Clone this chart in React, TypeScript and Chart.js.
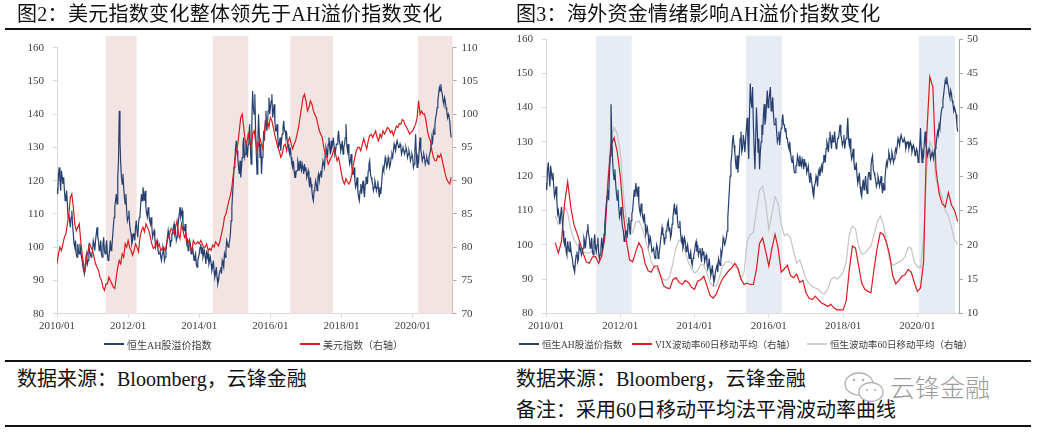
import React, { useEffect, useRef } from "react";
import { Chart, registerables } from "chart.js";

Chart.register(...registerables);

const SERIF = '"Liberation Serif", "Noto Sans CJK SC", serif';
const CJK = '"Liberation Serif", "Noto Sans CJK SC", sans-serif';

// ---- x axis (time in years) ----
const xTicks = [2010, 2012, 2014, 2016, 2018, 2020];
const xTickLabels = ["2010/01", "2012/01", "2014/01", "2016/01", "2018/01", "2020/01"];
const X_MIN = 2010;
const X_MAX = 2021.12;

// ---- 恒生AH股溢价指数: weekly-ish (48 per year) from 2010/01 ----
const ahPremium = [
  118, 116, 122, 124, 120, 117, 123, 121, 119, 121, 117, 114, 115, 117, 113, 109, 110, 108, 106, 109, 111, 107, 104, 101,
  100, 102, 98, 97, 101, 99, 98, 101, 99, 97, 96, 94, 93, 92, 95, 97, 98, 95, 96, 100, 99, 98, 97, 98,
  99, 102, 101, 99, 102, 104, 106, 103, 102, 99, 100, 102, 98, 97, 101, 103, 99, 98, 100, 102, 98, 96, 97, 99,
  102, 99, 100, 103, 106, 109, 112, 114, 116, 113, 121, 126, 141, 132, 125, 121, 119, 122, 118, 115, 113, 116, 111, 108,
  109, 111, 107, 105, 104, 101, 102, 104, 104, 102, 106, 108, 105, 103, 107, 109, 110, 113, 116, 114, 118, 116, 114, 117,
  112, 110, 109, 112, 110, 108, 107, 109, 106, 103, 104, 105, 103, 100, 101, 102, 100, 98, 98, 99, 97, 96, 98, 100,
  99, 96, 97, 99, 101, 103, 105, 103, 103, 100, 102, 104, 104, 106, 107, 104, 105, 102, 103, 106, 108, 110, 112, 109,
  110, 111, 107, 105, 105, 107, 103, 101, 102, 99, 100, 102, 101, 98, 99, 100, 98, 96, 97, 98, 95, 94, 96, 97,
  98, 100, 101, 98, 100, 97, 98, 99, 97, 95, 99, 97, 98, 95, 96, 97, 95, 93, 94, 96, 93, 91, 92, 94,
  91, 89, 90, 92, 93, 94, 92, 96, 95, 94, 98, 97, 99, 102, 101, 100, 101, 102, 104, 108, 112, 116, 120, 124,
  126, 130, 132, 129, 127, 124, 122, 126, 121, 124, 127, 131, 133, 127, 128, 132, 130, 127, 131, 134, 137, 130, 125, 138,
  147, 142, 140, 146, 135, 128, 122, 131, 140, 134, 127, 131, 122, 127, 130, 135, 132, 138, 141, 135, 137, 141, 145, 140,
  142, 144, 146, 139, 141, 143, 138, 135, 135, 137, 133, 130, 131, 133, 129, 132, 134, 136, 138, 135, 135, 133, 134, 131,
  131, 129, 128, 130, 127, 125, 124, 126, 123, 121, 121, 123, 123, 126, 125, 123, 126, 124, 123, 125, 124, 122, 125, 123,
  124, 121, 122, 123, 120, 118, 121, 119, 117, 115, 114, 117, 118, 120, 119, 117, 121, 122, 120, 122, 123, 121, 124, 126,
  126, 124, 128, 130, 129, 127, 131, 133, 130, 128, 132, 130, 131, 133, 130, 128, 129, 131, 131, 133, 135, 132, 131, 129,
  130, 132, 128, 130, 131, 133, 137, 131, 129, 131, 127, 125, 126, 128, 124, 122, 122, 124, 120, 118, 119, 121, 117, 115,
  114, 117, 119, 116, 118, 120, 117, 115, 119, 121, 121, 119, 123, 125, 126, 122, 121, 120, 119, 117, 118, 120, 119, 117,
  118, 120, 117, 115, 118, 116, 119, 122, 124, 123, 125, 127, 126, 124, 125, 127, 126, 124, 125, 127, 128, 127, 129, 131,
  130, 129, 131, 132, 132, 130, 130, 131, 130, 128, 129, 130, 130, 128, 129, 130, 129, 127, 128, 129, 128, 126, 127, 128,
  127, 124, 125, 129, 134, 128, 124, 127, 126, 130, 133, 129, 128, 126, 127, 128, 127, 125, 126, 127, 126, 125, 127, 128,
  129, 131, 133, 132, 135, 134, 137, 139, 140, 142, 144, 146, 148, 147, 149, 147, 146, 144, 143, 145, 144, 142, 141, 139,
  140, 139, 138, 135, 133,
];
const AH_START = 2010;
const AH_PER_YEAR = 48;

// ---- 美元指数: twice a month from 2010/01 ----
const usdIndex = [
  77.5, 79, 80, 79.5, 80.5, 81.5, 82, 83.5, 85, 87.5, 88, 86, 83.5, 82.5, 83, 83.5, 81, 79, 77, 76.5, 78.5, 79.5, 80.5, 80,
  79.5, 78.5, 77.5, 77, 76.5, 75.5, 75, 74, 73.5, 74.5, 74.5, 75.5, 75, 74.5, 74, 73.8, 75.5, 77, 78, 77.5, 79, 78.5, 80.5, 80,
  81, 80, 79.5, 78.8, 79.5, 80.5, 80, 79.3, 81.5, 82.5, 83, 82.3, 83.5, 83, 82.5, 81.5, 80.5, 79.8, 80, 80.8, 80, 80.5, 79.5, 79.8,
  80, 79.5, 80.5, 81.5, 82, 82.8, 82.5, 82, 83, 84, 82, 81.3, 83.5, 82.5, 81.5, 82, 80.5, 81, 80, 79.5, 81, 80.5, 80.5, 80.8,
  80.5, 81, 80.5, 80, 80, 80.5, 79.5, 79.8, 79.5, 80.3, 80, 80.8, 80.5, 80.2, 81, 82, 83, 84.5, 85, 86, 87, 87.8, 89, 91,
  93, 94.5, 95.5, 97.5, 99.5, 100, 98, 96, 95.5, 97, 96, 95, 97, 97.5, 96, 94.5, 95.5, 96.3, 95.5, 94.8, 97.5, 99, 99, 98,
  99.5, 99, 98, 96.8, 96, 95, 94.5, 93.5, 94, 95.2, 95.5, 94.5, 96, 96.5, 95.5, 94.8, 95.5, 96, 97, 98, 99.5, 101, 102.5, 103,
  102, 100.5, 101, 102, 101.5, 100.5, 100, 99.5, 98.5, 97.5, 97, 96.5, 95, 94, 93.5, 92.5, 93, 93.5, 94, 94.8, 94, 93, 93.5, 92.3,
  91, 90, 89.5, 90.3, 89.8, 89.5, 90, 91, 92.5, 93.5, 94.5, 95, 95, 94.5, 95.5, 96.3, 95.5, 94.8, 96, 96.8, 97, 96.5, 97, 97.5,
  96.5, 96, 97, 96.5, 97.5, 97, 97.5, 98, 97.8, 97.2, 97.5, 96.8, 97.5, 98.2, 98, 98.6, 98.5, 99.2, 99, 98.3, 98, 97.5, 97, 97.3,
  97.5, 98, 98.5, 99.5, 102, 100, 100.5, 100, 100, 99, 97.5, 96.5, 96, 94.5, 93.5, 93, 93, 93.8, 93.5, 94, 93, 92, 91, 90.2,
  89.8, 89.5, 90.5,
];
const USD_START = 2010;
const USD_PER_YEAR = 24;

// ---- VIX波动率60日移动平均: monthly from 2010/04 ----
const vixMA60 = [
  20.3, 18.8, 20.5, 26, 29.2, 25.5, 23, 21.7, 20.3,
  18.8, 17.5, 17.3, 18.2, 18.3, 17.3, 18.3, 21, 29, 34.5, 35.6, 33.6,
  30, 24.5, 20.5, 17.8, 17.5, 19, 20.3, 19.5, 17.3, 16.2, 16, 16.9,
  16.9, 15.5, 14, 13.7, 13.6, 14.9, 15.2, 14.5, 14.2, 14.8, 14.5, 13.8,
  13.5, 14.7, 14.9, 15.4, 14, 12.6, 12.2, 12.8, 14, 15, 15.6, 16.2,
  16.6, 17.3, 16.6, 15, 14.2, 14.4, 14.2, 14.2, 16.4, 20.2, 21, 19,
  16.9, 19.5, 21.5, 19.5, 16, 16.5, 17, 15.5, 15.2, 15.7, 14.5, 14.8,
  13, 12.2, 12, 12.5, 12, 11.5, 11.3, 11, 11.3, 10.8, 10.5, 10.5,
  10.5, 11.8, 16.4, 19.8, 19.5, 17, 14.4, 13.5, 13.2, 13, 16.5, 19.5,
  21.8, 21.5, 20.3, 18.6, 15.5, 14.3, 14.8, 15.4, 15.6, 16.4, 16, 14.5,
  13.2, 13.7, 17.5, 35.8, 44.5, 43, 31, 27.5, 26, 25.5, 27.6, 25.8,
  25, 23.4,
];
// ---- 恒生波动率60日移动平均: monthly from 2010/04 ----
const hsiVolMA60 = [
  24.2, 23, 24.4, 25.6, 24.6, 22.2, 20.8, 20, 19.5,
  19, 18.8, 18.8, 19.2, 18.8, 18.3, 19.3, 22, 30, 35.5, 37.1, 36.2,
  33.5, 27.5, 23.5, 21.5, 21.8, 23.3, 23.5, 22.5, 21, 19.3, 17.5, 16.7,
  16.4, 15.5, 14.9, 14.8, 15.4, 17.3, 19.6, 20.7, 20.4, 19, 17.4, 16.5,
  15.9, 16.2, 17.2, 17, 15.8, 14.5, 14, 14, 15.2, 16.8, 17.4, 17.6,
  17.3, 16.9, 16.4, 15, 16, 20.5, 21.5, 21.8, 25, 28, 28.5, 26,
  22.2, 24.5, 27, 26, 23, 21.3, 21.6, 21, 19, 17.3, 17.8, 16.4,
  15, 14.4, 13.9, 13.7, 13.5, 13, 12.8, 13.5, 14.8, 15.3, 15, 15.4,
  16, 17.5, 21.5, 22.7, 22.3, 19.8, 18.6, 18.8, 19.3, 19.8, 21.5, 23.3,
  24.2, 23, 20.5, 17.8, 17, 17.2, 17.5, 17.7, 18.3, 19.6, 19.5, 17.5,
  16.8, 16.6, 21, 31, 35, 33.9, 29.5, 28.3, 27, 25, 24.2, 22.5,
  20.8, 20,
];
const VOL_START = 2010.25;

// ---- shaded periods (start, end in years) ----
const bandsFig2 = [
  [2011.37, 2012.24],
  [2014.38, 2015.38],
  [2016.56, 2017.76],
  [2020.15, 2021.12],
];
const bandsFig3 = [
  [2011.35, 2012.31],
  [2015.38, 2016.35],
  [2020.04, 2021.01],
];

const BLUE = "#263f6e";
const RED = "#dc1a1f";
const GRAY = "#c4c4c4";

const toPoints = (vals: number[], start: number, perYear: number) =>
  vals.map((v, i) => ({ x: start + i / perYear, y: v }));

const bandPlugin = {
  id: "bands",
  beforeDatasetsDraw(chart: any, _args: any, opts: any) {
    const { ctx, chartArea, scales } = chart;
    const x = scales.x;
    ctx.save();
    ctx.fillStyle = opts.color;
    for (const [a, b] of opts.ranges) {
      const x0 = x.getPixelForValue(a);
      const x1 = x.getPixelForValue(Math.min(b, x.max));
      const top = chartArea.top - opts.extendTop;
      ctx.fillRect(x0, top, x1 - x0, chartArea.bottom - top);
    }
    ctx.restore();
  },
};

const tickFont = { family: SERIF, size: 11 };
const TICK_COLOR = "#404040";

function xScale(height: number) {
  return {
    type: "linear",
    min: X_MIN,
    max: X_MAX,
    afterBuildTicks: (s: any) => {
      s.ticks = xTicks.map((v) => ({ value: v }));
    },
    afterFit: (s: any) => {
      s.height = height;
    },
    ticks: {
      font: tickFont,
      color: TICK_COLOR,
      padding: 2,
      maxRotation: 0,
      autoSkip: false,
      callback: (v: number) => {
        const i = xTicks.indexOf(v);
        return i >= 0 ? xTickLabels[i] : "";
      },
    },
    grid: { drawOnChartArea: false, drawTicks: true, tickLength: 4, color: "#d9d9d9" },
    border: { color: "#d9d9d9" },
  };
}

function yScale(pos: string, min: number, max: number, step: number, width: number, pad: number, border: string) {
  return {
    position: pos,
    min,
    max,
    afterFit: (s: any) => {
      s.width = width;
    },
    ticks: { stepSize: step, font: tickFont, color: TICK_COLOR, padding: pad },
    grid: { drawOnChartArea: false, drawTicks: true, tickLength: 4, color: border },
    border: { color: border },
  };
}

function Fig2Chart() {
  const ref = useRef<HTMLCanvasElement>(null);
  useEffect(() => {
    const chart = new Chart(ref.current as HTMLCanvasElement, {
      type: "line",
      data: {
        datasets: [
          {
            label: "美元指数（右轴）",
            data: toPoints(usdIndex, USD_START, USD_PER_YEAR),
            yAxisID: "y1",
            borderColor: RED,
            borderWidth: 1.2,
            pointRadius: 0,
            order: 0,
          },
          {
            label: "恒生AH股溢价指数",
            data: toPoints(ahPremium, AH_START, AH_PER_YEAR),
            yAxisID: "y",
            borderColor: BLUE,
            borderWidth: 1.2,
            pointRadius: 0,
            order: 1,
          },
        ],
      },
      options: {
        animation: false,
        responsive: false,
        maintainAspectRatio: false,
        layout: { padding: { top: 47.7, left: 0, right: 0, bottom: 0 } },
        plugins: {
          legend: { display: false },
          tooltip: { enabled: false },
          bands: { ranges: bandsFig2, color: "#f3e4e4", extendTop: 11.7 },
        } as any,
        scales: {
          x: xScale(46.3),
          y: yScale("left", 80, 160, 10, 57, 9, "#d9d9d9"),
          y1: yScale("right", 70, 110, 5, 57.5, 5, "#bda3a3"),
        } as any,
      },
      plugins: [bandPlugin],
    } as any);
    return () => chart.destroy();
  }, []);
  return (
    <canvas
      ref={ref}
      width={510}
      height={360}
      style={{ position: "absolute", left: 0, top: 0, width: 510, height: 360 }}
    />
  );
}

function Fig3Chart() {
  const ref = useRef<HTMLCanvasElement>(null);
  useEffect(() => {
    const chart = new Chart(ref.current as HTMLCanvasElement, {
      type: "line",
      data: {
        datasets: [
          {
            label: "恒生AH股溢价指数",
            data: toPoints(ahPremium, AH_START, AH_PER_YEAR),
            yAxisID: "y",
            borderColor: BLUE,
            borderWidth: 1.2,
            pointRadius: 0,
            order: 0,
          },
          {
            label: "VIX波动率60日移动平均（右轴）",
            data: toPoints(vixMA60, VOL_START, 12),
            yAxisID: "y1",
            borderColor: RED,
            borderWidth: 1.2,
            pointRadius: 0,
            order: 1,
          },
          {
            label: "恒生波动率60日移动平均（右轴）",
            data: toPoints(hsiVolMA60, VOL_START, 12),
            yAxisID: "y1",
            borderColor: GRAY,
            borderWidth: 1.2,
            pointRadius: 0,
            order: 2,
          },
        ],
      },
      options: {
        animation: false,
        responsive: false,
        maintainAspectRatio: false,
        layout: { padding: { top: 39, left: 0, right: 0, bottom: 0 } },
        plugins: {
          legend: { display: false },
          tooltip: { enabled: false },
          bands: { ranges: bandsFig3, color: "#e7ebf4", extendTop: 3.3 },
        } as any,
        scales: {
          x: xScale(46.7),
          y: yScale("left", 80, 160, 10, 34, 9, "#d9d9d9"),
          y1: yScale("right", 10, 50, 5, 78, 4, "#a6a6a6"),
        } as any,
      },
      plugins: [bandPlugin],
    } as any);
    return () => chart.destroy();
  }, []);
  return (
    <canvas
      ref={ref}
      width={525}
      height={360}
      style={{ position: "absolute", left: 512, top: 0, width: 525, height: 360 }}
    />
  );
}

function LegendItem(props: { left: number; color: string; text: string; size: number }) {
  return (
    <div
      style={{
        position: "absolute",
        left: props.left,
        top: 337,
        height: 14,
        display: "flex",
        alignItems: "center",
        whiteSpace: "nowrap",
        fontFamily: CJK,
        fontSize: props.size,
        color: "#404040",
      }}
    >
      <span style={{ display: "inline-block", width: 20, height: 1.3, background: props.color, marginRight: 3 }} />
      <span>{props.text}</span>
    </div>
  );
}

function Rule(props: { top: number }) {
  return (
    <div style={{ position: "absolute", left: 5, top: props.top, width: 1026, height: 1.5, background: "#111" }} />
  );
}

export default function App() {
  const textStyle: any = {
    position: "absolute",
    fontFamily: SERIF,
    fontSize: 20,
    lineHeight: "22px",
    color: "#111",
    whiteSpace: "nowrap",
  };
  return (
    <div
      style={{
        position: "absolute",
        left: 0,
        top: 0,
        width: 1037,
        height: 434,
        background: "#fff",
        overflow: "hidden",
      }}
    >
      <Fig2Chart />
      <Fig3Chart />
      <div style={{ ...textStyle, left: 17, top: 3, letterSpacing: 0.3 }}>图2：美元指数变化整体领先于AH溢价指数变化</div>
      <div style={{ ...textStyle, left: 516, top: 3, letterSpacing: 0.3 }}>图3：海外资金情绪影响AH溢价指数变化</div>
      <Rule top={28} />

      <LegendItem left={104} color={BLUE} text="恒生AH股溢价指数" size={10} />
      <LegendItem left={300} color={RED} text="美元指数（右轴）" size={10} />
      <LegendItem left={519} color={BLUE} text="恒生AH股溢价指数" size={9.5} />
      <LegendItem left={632} color={RED} text="VIX波动率60日移动平均（右轴）" size={9.5} />
      <LegendItem left={807} color="#d0d0d0" text="恒生波动率60日移动平均（右轴）" size={9.5} />

      <Rule top={360} />
      <div style={{ ...textStyle, left: 17, top: 368 }}>数据来源：Bloomberg，云锋金融</div>
      <div style={{ ...textStyle, left: 516, top: 368 }}>数据来源：Bloomberg，云锋金融</div>
      <div style={{ ...textStyle, left: 516, top: 399 }}>备注：采用60日移动平均法平滑波动率曲线</div>
      <svg
        width={44}
        height={36}
        viewBox="0 0 44 36"
        style={{ position: "absolute", left: 843, top: 370 }}
      >
        <ellipse cx={16} cy={14} rx={14} ry={11} fill="none" stroke="#b0b0b0" strokeWidth={1.3} />
        <ellipse cx={28} cy={22} rx={12} ry={9.5} fill="#fff" stroke="#b0b0b0" strokeWidth={1.3} />
        <circle cx={11} cy={10} r={1.3} fill="#b0b0b0" />
        <circle cx={20} cy={10} r={1.3} fill="#b0b0b0" />
        <circle cx={24} cy={20} r={1.1} fill="#b0b0b0" />
        <circle cx={32} cy={20} r={1.1} fill="#b0b0b0" />
      </svg>
      <div
        style={{
          position: "absolute",
          left: 890,
          top: 370,
          fontFamily: '"Noto Sans CJK SC", sans-serif',
          fontWeight: 300,
          fontSize: 25,
          lineHeight: "32px",
          color: "#9a9a9a",
          whiteSpace: "nowrap",
        }}
      >
        云锋金融
      </div>
      <Rule top={425} />
    </div>
  );
}
